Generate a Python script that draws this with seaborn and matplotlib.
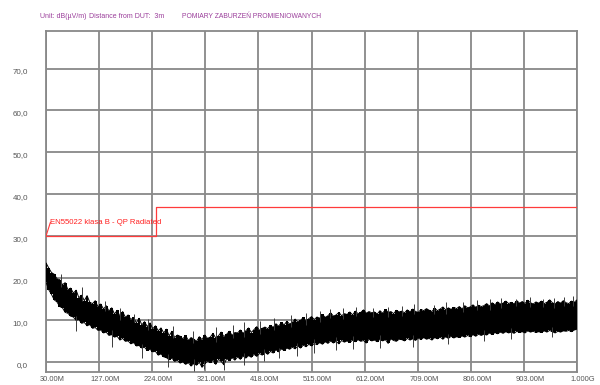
import numpy as np
import matplotlib
matplotlib.use('Agg')
import matplotlib.pyplot as plt
import matplotlib.transforms as mtransforms
import seaborn as sns

# Frequency axis (MHz) and tick labels
freq_ticks = [30, 127, 224, 321, 418, 515, 612, 709, 806, 903, 1000]
freq_labels = ['30.00M', '127.00M', '224.00M', '321.00M', '418.00M', '515.00M',
               '612.00M', '709.00M', '806.00M', '903.00M', '1.000G']
level_ticks = [0, 10, 20, 30, 40, 50, 60, 70]
level_labels = ['0,0', '10,0', '20,0', '30,0', '40,0', '50,0', '60,0', '70,0']

# Limit line EN55022 class B, QP radiated (dBuV/m)
limit_freq = [30, 230, 1000]
limit_level = [30, 37, 37]

trace_start, trace_step = 30, 5
trace_max = [
    23.6, 22.4, 21.3, 20.9, 19.8, 19.6, 18.4, 18.9, 17.2, 17.6,
    16.4, 17.1, 15.3, 15.9, 14.6, 15.8, 14.2, 13.9, 14.6, 13.1,
    13.8, 12.6, 13.4, 12.1, 12.9, 11.4, 12.3, 10.9, 12.0, 10.6,
    11.2, 10.1, 10.6, 9.3, 10.4, 8.8, 9.6, 8.4, 9.3, 7.9,
    8.6, 7.4, 8.1, 6.9, 7.8, 6.2, 7.3, 5.8, 6.4, 6.1,
    5.5, 6.3, 5.1, 5.8, 5.4, 4.9, 6.0, 5.3, 6.4, 5.6,
    5.9, 6.8, 5.7, 6.2, 7.1, 6.0, 6.6, 7.3, 6.3, 7.0,
    6.9, 7.6, 6.8, 7.4, 8.1, 7.0, 7.7, 8.4, 7.5, 8.0,
    8.3, 7.9, 8.7, 8.2, 9.1, 8.5, 9.4, 8.8, 9.7, 9.0,
    9.4, 10.2, 9.5, 9.9, 10.6, 9.7, 10.3, 10.8, 10.1, 10.7,
    10.4, 11.3, 10.6, 11.0, 11.7, 10.9, 11.2, 11.8, 11.0, 11.5,
    11.3, 11.9, 11.2, 12.1, 11.5, 11.8, 12.4, 11.6, 12.0, 11.7,
    11.9, 11.4, 12.2, 11.6, 12.5, 11.8, 12.0, 11.5, 12.3, 11.9,
    12.1, 11.7, 12.4, 11.9, 12.6, 12.0, 11.8, 12.5, 12.2, 12.7,
    12.3, 12.0, 12.8, 12.2, 12.6, 13.1, 12.4, 12.9, 12.5, 13.0,
    12.7, 13.2, 12.6, 13.4, 12.9, 13.1, 13.6, 13.0, 13.5, 13.2,
    13.4, 13.9, 13.3, 14.1, 13.6, 14.3, 13.8, 14.0, 14.5, 13.9,
    14.2, 13.8, 14.6, 14.0, 14.4, 13.9, 14.7, 14.1, 13.8, 14.3,
    14.0, 14.5, 13.9, 14.2, 14.8, 14.1, 13.8, 14.4, 14.0, 14.6,
    14.1, 13.9, 14.5, 14.2, 14.8,
]
trace_min = [
    19.0, 17.2, 16.1, 14.8, 14.3, 13.2, 12.9, 11.8, 11.6, 10.9,
    10.7, 9.9, 10.1, 9.2, 9.4, 8.6, 8.9, 8.0, 8.2, 7.5,
    7.6, 6.9, 7.1, 6.3, 6.5, 5.9, 6.1, 5.2, 5.6, 4.9,
    5.0, 4.3, 4.6, 3.8, 3.9, 3.3, 3.5, 2.7, 3.0, 2.4,
    2.5, 1.6, 1.9, 1.2, 1.0, 0.5, 0.9, 0.1, 0.4, -0.3,
    0.0, -0.6, -0.2, -1.0, -0.4, -0.8, -0.1, -1.3, -0.5, 0.2,
    -0.2, 0.4, -0.6, 0.6, 0.1, -0.7, 0.8, 0.3, 1.0, 0.4,
    1.2, 0.6, 1.4, 0.9, 1.5, 1.1, 1.8, 1.3, 2.0, 1.6,
    2.3, 1.8, 2.5, 2.1, 2.9, 2.4, 3.1, 2.7, 3.3, 3.0,
    3.5, 3.1, 3.8, 3.3, 4.0, 3.6, 4.2, 3.8, 4.4, 4.1,
    4.6, 4.2, 4.8, 4.4, 5.0, 4.5, 4.9, 4.3, 5.1, 4.7,
    5.0, 4.6, 5.2, 4.8, 5.3, 4.9, 5.1, 4.5, 5.4, 5.0,
    5.2, 4.8, 5.4, 5.0, 5.3, 4.4, 5.5, 5.1, 4.9, 5.4,
    5.3, 5.0, 5.6, 5.2, 5.5, 5.1, 5.7, 5.3, 5.8, 5.4,
    5.6, 5.2, 5.8, 5.5, 5.9, 5.4, 6.0, 5.6, 6.1, 5.7,
    6.0, 5.8, 6.2, 5.9, 6.3, 6.0, 6.5, 6.1, 6.6, 6.3,
    6.6, 6.4, 6.9, 6.5, 7.0, 6.7, 7.1, 6.8, 7.2, 6.9,
    7.1, 6.8, 7.3, 7.0, 7.2, 6.9, 7.4, 7.1, 7.3, 7.0,
    7.2, 7.0, 7.4, 7.1, 7.5, 7.2, 6.9, 7.3, 7.1, 7.4,
    7.3, 7.5, 7.2, 7.6, 7.8,
]
trace_freq = trace_start + trace_step * np.arange(len(trace_max))

# isolated spikes sticking out of the noise band
spike_up_freq = [58, 96, 138, 165, 190, 216, 262, 298, 340, 372, 392, 421, 447, 478, 505, 531,
                 548, 572, 596, 627, 655, 681, 702, 738, 760, 792, 818, 841, 862, 889, 915,
                 938, 958, 977, 992]
spike_up_level = [21.0, 17.9, 14.6, 12.8, 11.3, 10.2, 8.5, 7.4, 8.3, 8.9, 9.6, 9.8, 10.5, 11.2,
                  11.6, 12.1, 12.6, 12.9, 13.2, 12.8, 13.0, 13.4, 13.8, 13.6, 14.2, 14.3,
                  14.8, 15.0, 15.3, 15.1, 15.5, 15.0, 15.2, 15.4, 15.6]
spike_dn_freq = [84, 150, 205, 252, 300, 318, 356, 392, 428, 455, 488, 520, 560, 590, 640, 700,
                 765, 830, 880, 955]
spike_dn_level = [7.3, 3.6, 1.0, -1.2, -2.2, -1.8, -1.9, -0.8, 0.2, 0.9, 1.5, 2.2, 2.8, 3.1, 3.4,
                  3.6, 4.2, 4.9, 5.4, 5.9]

sns.set_style('white')
plt.rcParams['font.family'] = ['Liberation Sans', 'DejaVu Sans']

fig = plt.figure(figsize=(6, 3.85), dpi=100)
ax = fig.add_axes([0.0767, 0.034, 0.885, 0.886])

grid_col = '#888888'
for f in freq_ticks:
    ax.axvline(f, color=grid_col, lw=1.3, zorder=1)
for v in level_ticks:
    ax.axhline(v, color=grid_col, lw=1.3, zorder=1)

ax.fill_between(trace_freq, trace_min, trace_max, step='mid', color='black', lw=0, zorder=3)
sns.lineplot(x=trace_freq, y=trace_max, color='black', lw=0.7,
             estimator=None, sort=False, ax=ax, zorder=3)
sns.lineplot(x=trace_freq, y=trace_min, color='black', lw=0.7,
             estimator=None, sort=False, ax=ax, zorder=3)
ax.vlines(spike_up_freq, np.interp(spike_up_freq, trace_freq, trace_max) - 1, spike_up_level,
          color='#3a3a3a', lw=0.7, zorder=3)
ax.vlines(spike_dn_freq, spike_dn_level, np.interp(spike_dn_freq, trace_freq, trace_min) + 1,
          color='#3a3a3a', lw=0.7, zorder=3)

sns.lineplot(x=limit_freq, y=limit_level, color='#ff3b3b', lw=0.9,
             drawstyle='steps-post', estimator=None, ax=ax, zorder=4)

# limit label with small leader
ax.plot([limit_freq[0], 38], [limit_level[0], 33.3], color='#ff3b3b', lw=0.8, zorder=4)
ax.text(38, 33.3, 'EN55022 klasa B - QP Radiated', color='#ff2020',
        fontsize=5.6, va='center', ha='left', zorder=5)

ax.set_xlim(30, 1000)
ax.set_ylim(-2.4, 79)
ax.set_xticks(freq_ticks)
ax.set_xticklabels(freq_labels)
ax.set_yticks(level_ticks)
ax.set_yticklabels(level_labels)
ax.tick_params(axis='both', length=0, labelsize=5.4, colors='#555555')
ax.tick_params(axis='y', labelsize=5.8, pad=13)
ax.tick_params(axis='x', pad=3)
for lbl in ax.get_yticklabels():
    lbl.set_va('top')
shift = mtransforms.ScaledTranslation(6 / 100, 0, fig.dpi_scale_trans)
for lbl in ax.get_xticklabels():
    lbl.set_transform(lbl.get_transform() + shift)

for s in ax.spines.values():
    s.set_color(grid_col)
    s.set_linewidth(1.3)
ax.set_xlabel('')
ax.set_ylabel('')

purple = '#9a3d9a'
fig.text(40 / 600, 1 - 16 / 385, 'Unit: dB(\u00b5V/m)', color=purple, fontsize=5.0, va='center')
fig.text(89 / 600, 1 - 16 / 385, 'Distance from DUT:  3m', color=purple, fontsize=5.0, va='center')
fig.text(182 / 600, 1 - 16 / 385, 'POMIARY ZABURZE\u0143 PROMIENIOWANYCH', color=purple,
         fontsize=4.9, va='center')

fig.savefig('out.png', dpi=100)
